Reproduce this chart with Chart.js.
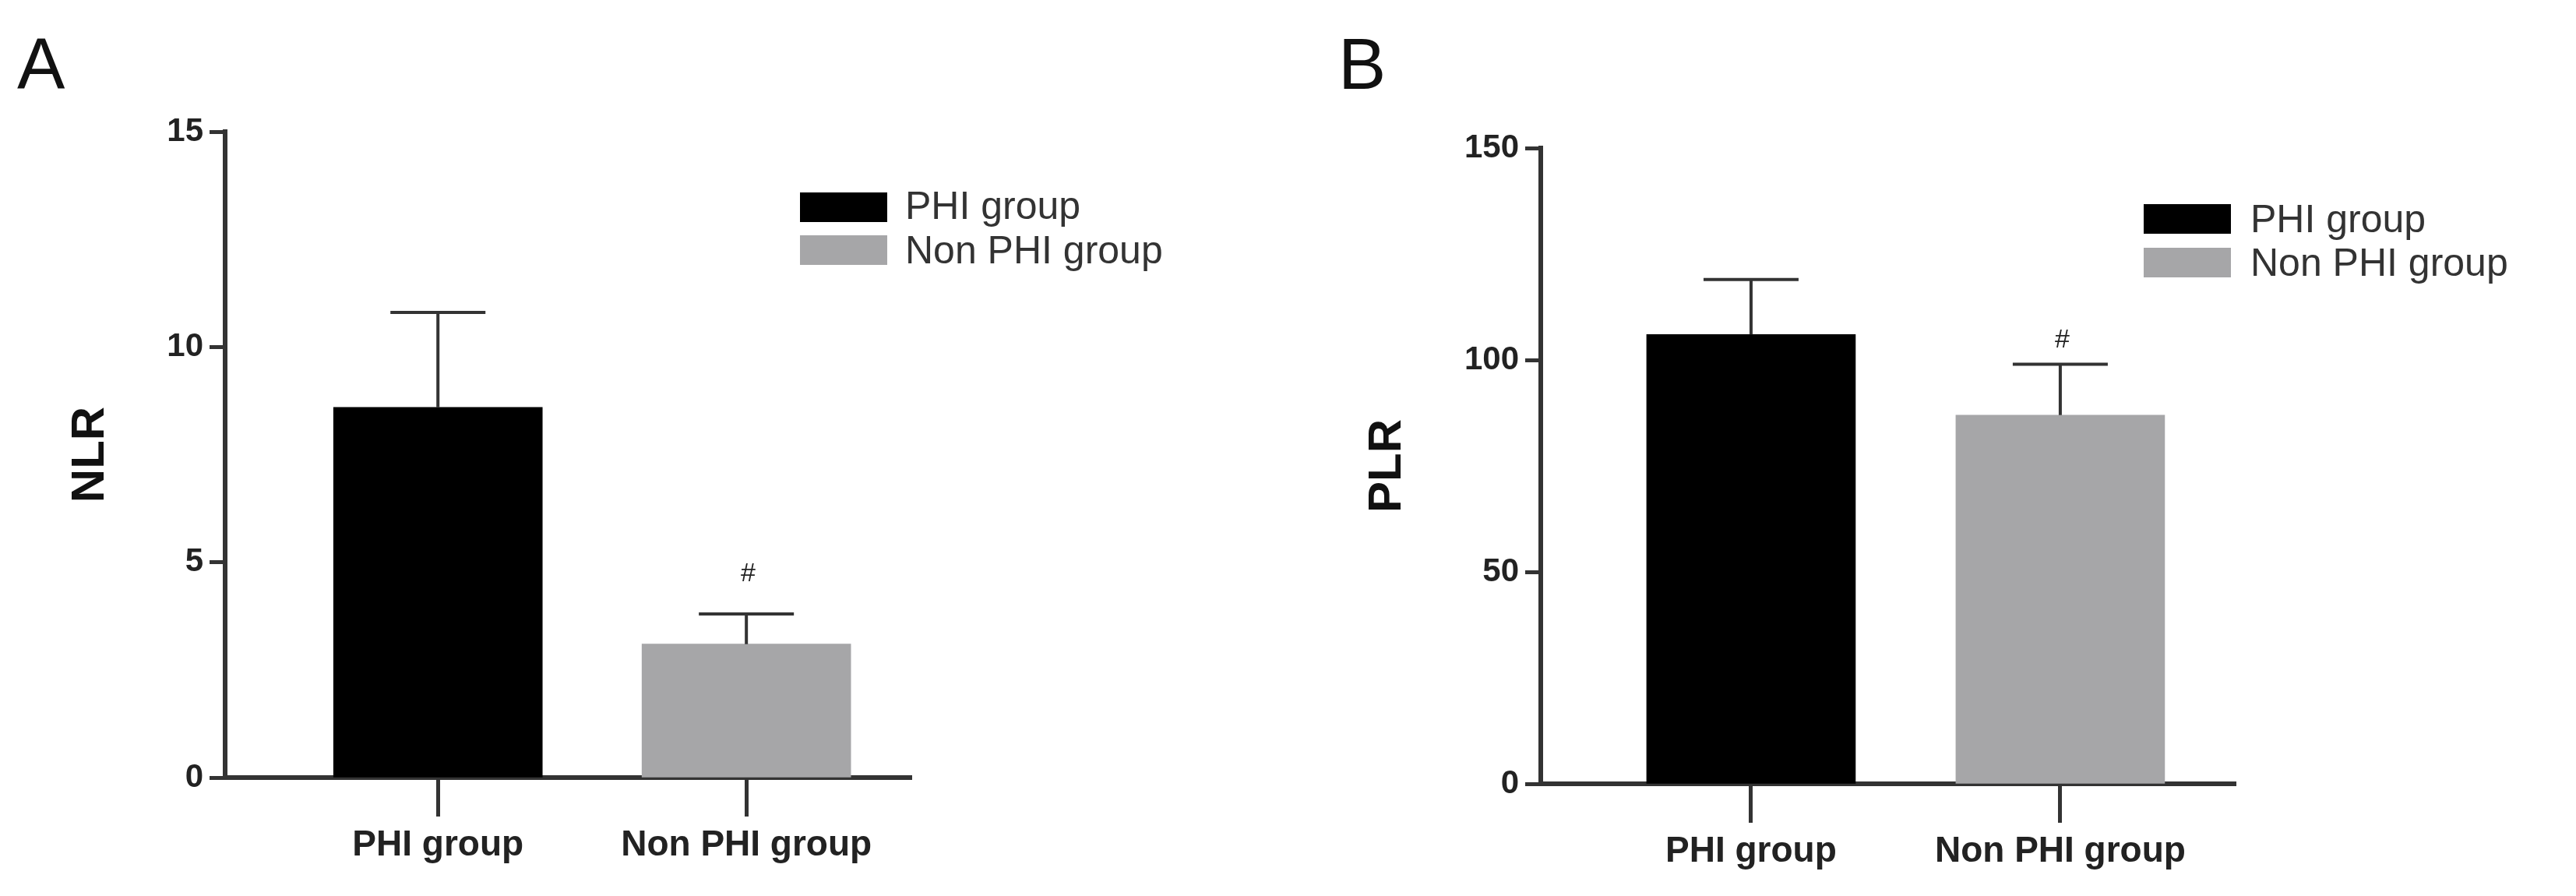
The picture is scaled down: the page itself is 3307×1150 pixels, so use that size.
<!DOCTYPE html>
<html>
<head>
<meta charset="utf-8">
<script src="https://cdn.jsdelivr.net/npm/chart.js@4"></script>
<style>
  body { margin: 0; background: #fff; width: 3307px; height: 1150px; position: relative; overflow: hidden; font-family: "Liberation Sans", Arial, sans-serif; }
  .panel { position: absolute; top: 0; height: 1150px; }
  .txt { position: absolute; white-space: nowrap; }
  .letter { font-size: 92px; color: #111; }
  .legbox { position: absolute; width: 112px; height: 38px; }
  .legtxt { position: absolute; font-size: 50px; color: #333; line-height: 38px; }
  .hash { font-size: 34px; color: #222; }
</style>
</head>
<body>
<div class="panel" style="left:0;width:1650px"><canvas id="chartA"></canvas></div>
<div class="panel" style="left:1650px;width:1657px"><canvas id="chartB"></canvas></div>

<div class="txt letter" style="left:22px;top:30px">A</div>
<div class="txt letter" style="left:1718px;top:30px">B</div>

<div class="legbox" style="left:1027px;top:247px;background:#000"></div>
<div class="legtxt" style="left:1162px;top:245px">PHI group</div>
<div class="legbox" style="left:1027px;top:302px;background:#a6a6a8"></div>
<div class="legtxt" style="left:1162px;top:302px">Non PHI group</div>

<div class="legbox" style="left:2752px;top:262px;background:#000"></div>
<div class="legtxt" style="left:2889px;top:262px">PHI group</div>
<div class="legbox" style="left:2752px;top:318px;background:#a6a6a8"></div>
<div class="legtxt" style="left:2889px;top:318px">Non PHI group</div>

<div class="txt hash" style="left:951px;top:715px">#</div>
<div class="txt hash" style="left:2638px;top:415px">#</div>

<script>
var groups = ['PHI group', 'Non PHI group'];
var nlrMeans = [8.6, 3.1];
var nlrUpper = [10.8, 3.8];
var plrMeans = [106, 87];
var plrUpper = [119, 99];
var barColors = ['#000000', '#a6a6a8'];

var errorBars = {
    id: 'errorBars',
    afterDatasetsDraw: function(chart, args, opts) {
        var ctx = chart.ctx;
        var x = chart.scales.x, y = chart.scales.y;
        ctx.save();
        ctx.strokeStyle = '#333';
        ctx.lineWidth = 4;
        for (var i = 0; i < opts.means.length; i++) {
            var px = x.getPixelForValue(i + 1);
            var top = y.getPixelForValue(opts.upper[i]);
            ctx.beginPath();
            ctx.moveTo(px, y.getPixelForValue(opts.means[i]));
            ctx.lineTo(px, top);
            ctx.moveTo(px - 61, top);
            ctx.lineTo(px + 61, top);
            ctx.stroke();
        }
        ctx.restore();
    }
};

function makeChart(id, w, means, upper, yMax, step, title, pad, xMin, xMax, yWidth, xHeight, titlePad) {
    var canvas = document.getElementById(id);
    canvas.style.width = w + 'px';
    canvas.style.height = '1150px';
    var datasets = [];
    for (var i = 0; i < groups.length; i++) {
        datasets.push({
            label: groups[i],
            data: [{ x: i + 1, y: means[i] }],
            backgroundColor: barColors[i],
            barThickness: 268,
            grouped: false
        });
    }
    return new Chart(canvas, {
        type: 'bar',
        data: { datasets: datasets },
        plugins: [errorBars],
        options: {
            responsive: false,
            animation: false,
            devicePixelRatio: 1,
            layout: { autoPadding: false, padding: pad },
            plugins: {
                legend: { display: false },
                tooltip: { enabled: false },
                errorBars: { means: means, upper: upper }
            },
            scales: {
                x: {
                    type: 'linear',
                    offset: false,
                    min: xMin,
                    max: xMax,
                    afterBuildTicks: function(s) { s.ticks = [{ value: 1 }, { value: 2 }]; },
                    afterFit: function(s) { s.height = xHeight; },
                    ticks: {
                        callback: function(v) { return groups[v - 1]; },
                        color: '#222',
                        font: { family: 'Liberation Sans', size: 46, weight: 'bold' },
                        padding: 10,
                        maxRotation: 0,
                        autoSkip: false
                    },
                    grid: { display: true, offset: false, drawOnChartArea: false, tickLength: 50, tickWidth: 5, color: '#333' },
                    border: { display: true, width: 6, color: '#333' }
                },
                y: {
                    min: 0,
                    max: yMax,
                    afterFit: function(s) { s.width = yWidth; },
                    ticks: {
                        stepSize: step,
                        color: '#222',
                        font: { family: 'Liberation Sans', size: 42, weight: 'bold' },
                        padding: 8
                    },
                    title: {
                        display: true,
                        text: title,
                        color: '#111',
                        font: { family: 'Liberation Sans', size: 60, weight: 'bold' },
                        padding: titlePad
                    },
                    grid: { display: true, drawOnChartArea: false, tickLength: 20, tickWidth: 5, color: '#333' },
                    border: { display: true, width: 6, color: '#333' }
                }
            }
        }
    });
}

makeChart('chartA', 1650, nlrMeans, nlrUpper, 15, 5, 'NLR',
    { left: 0, top: 169, right: 480, bottom: 0 }, 0.31, 2.535, 289, 152, { top: 80, bottom: 56 });
makeChart('chartB', 1657, plrMeans, plrUpper, 150, 50, 'PLR',
    { left: 0, top: 190, right: 437, bottom: 0 }, 0.32, 2.567, 328, 144, { top: 95, bottom: 68 });
</script>
</body>
</html>
